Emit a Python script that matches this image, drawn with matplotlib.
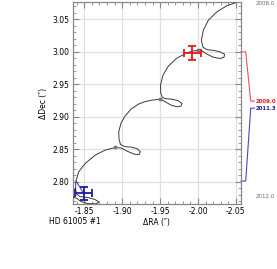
import numpy as np
import matplotlib
matplotlib.use("Agg")
import matplotlib.pyplot as plt

# predicted track of the companion, 2008.0 -> 2012.0
track_ra = [-2.0488, -2.0379, -2.0247, -2.0136, -2.0070, -2.0044, -2.0066, -2.0119,
            -2.0211, -2.0290, -2.0350, -2.0343, -2.0290, -2.0202, -2.0119, -2.0059,
            -2.0004, -1.9921, -1.9851, -1.9719, -1.9608, -1.9538, -1.9505, -1.9508,
            -1.9532, -1.9578, -1.9657, -1.9736, -1.9789, -1.9776, -1.9723, -1.9644,
            -1.9565, -1.9503, -1.9393, -1.9301, -1.9218, -1.9116, -1.9037, -1.8984,
            -1.8954, -1.8958, -1.8978, -1.9037, -1.9116, -1.9195, -1.9239, -1.9222,
            -1.9156, -1.9063, -1.8991, -1.8909, -1.8777, -1.8645, -1.8513, -1.8426,
            -1.8390, -1.8384, -1.8397, -1.8443, -1.8549, -1.8641, -1.8694, -1.8654,
            -1.8549, -1.8456, -1.8404, -1.8338]
track_dec = [3.0754, 3.0711, 3.0615, 3.0488, 3.0334, 3.0180, 3.0072, 3.0034,
             3.0022, 3.0000, 2.9965, 2.9918, 2.9898, 2.9918, 2.9965, 3.0011,
             3.0026, 3.0011, 2.9985, 2.9903, 2.9780, 2.9642, 2.9488, 2.9365,
             2.9295, 2.9280, 2.9272, 2.9249, 2.9206, 2.9165, 2.9154, 2.9180,
             2.9234, 2.9272, 2.9257, 2.9234, 2.9198, 2.9118, 2.9011, 2.8903,
             2.8769, 2.8657, 2.8572, 2.8541, 2.8534, 2.8511, 2.8462, 2.8418,
             2.8426, 2.8472, 2.8518, 2.8529, 2.8488, 2.8411, 2.8283, 2.8154,
             2.8011, 2.7903, 2.7811, 2.7772, 2.7757, 2.7726, 2.7688, 2.7660,
             2.7663, 2.7695, 2.7741, 2.7772]

# yearly markers on the track
year_ra = [-2.0004, -1.9503, -1.8909]
year_dec = [3.0026, 2.9272, 2.8529]

# measurements: epoch, position, errors, predicted position at that epoch
epochs = ["2009.0", "2011.3"]
meas_ra = [-1.9925, -1.8492]
meas_dec = [2.9985, 2.7820]
err_ra = [0.0108, 0.0115]
err_dec = [0.0112, 0.0097]
pred_ra = [-2.0004, -1.8390]
pred_dec = [3.0000, 2.8011]
label_dec = [2.9242, 2.9134]
colors = ["#e41a1c", "#1c1c9c"]
line_colors = ["#f0505a", "#4848c0"]

fig = plt.figure(figsize=(2.77, 2.69), dpi=100)
ax = fig.add_axes([0.2625, 0.2416, 0.6075, 0.751])

ax.plot(track_ra, track_dec, color="#3a3a3a", lw=0.7, zorder=3)
ax.plot(year_ra, year_dec, "o", color="#777777", ms=1.8, zorder=4)

for i in range(len(epochs)):
    ax.plot([meas_ra[i], pred_ra[i]], [meas_dec[i], pred_dec[i]],
            color=line_colors[i], lw=0.8, zorder=4)
    ax.errorbar(meas_ra[i], meas_dec[i], xerr=err_ra[i], yerr=err_dec[i],
                fmt="none", ecolor=colors[i], elinewidth=1.3, capsize=2.7,
                capthick=1.3, zorder=5)
    # leader to the epoch label right of the frame
    ax.plot([1.0, 1.028, 1.058, 1.08],
            [pred_dec[i], pred_dec[i], label_dec[i], label_dec[i]],
            transform=ax.get_yaxis_transform(), color=line_colors[i], lw=0.8,
            clip_on=False)
    ax.text(1.085, label_dec[i], epochs[i], transform=ax.get_yaxis_transform(),
            color=colors[i], fontsize=3.9, fontweight="bold", va="center",
            ha="left", clip_on=False)

ax.text(1.09, 3.0745, "2008.0", transform=ax.get_yaxis_transform(),
        color="#666666", fontsize=4.0, va="center", ha="left")
ax.text(1.09, 2.778, "2012.0", transform=ax.get_yaxis_transform(),
        color="#666666", fontsize=4.0, va="center", ha="left")

ax.set_xlim(-1.8347, -2.0567)
ax.set_ylim(2.7657, 3.0769)
ax.set_xticks([-1.85, -1.90, -1.95, -2.00, -2.05])
ax.set_yticks([2.80, 2.85, 2.90, 2.95, 3.00, 3.05])
ax.set_xticks(np.arange(-1.84, -2.0567, -0.01), minor=True)
ax.set_yticks(np.arange(2.77, 3.077, 0.01), minor=True)
ax.xaxis.set_major_formatter(matplotlib.ticker.FormatStrFormatter("%.2f"))
ax.yaxis.set_major_formatter(matplotlib.ticker.FormatStrFormatter("%.2f"))

ax.grid(True, which="major", color="#e0e0e0", lw=0.9)
ax.set_axisbelow(True)
ax.tick_params(which="both", direction="in", top=True, right=True,
               color="#888888", labelsize=5.5, pad=2.5)
ax.tick_params(which="major", length=4, width=0.8)
ax.tick_params(which="minor", length=2, width=0.6)
for s in ax.spines.values():
    s.set_color("#888888")
    s.set_linewidth(0.9)

ax.set_xlabel("ΔRA (″)", fontsize=5.5, labelpad=1)
ax.set_ylabel("ΔDec (″)", fontsize=5.5, labelpad=3)
fig.text(0.177, 0.175, "HD 61005 #1", fontsize=5.5, va="center", ha="left")

fig.savefig("out.png", dpi=100)
